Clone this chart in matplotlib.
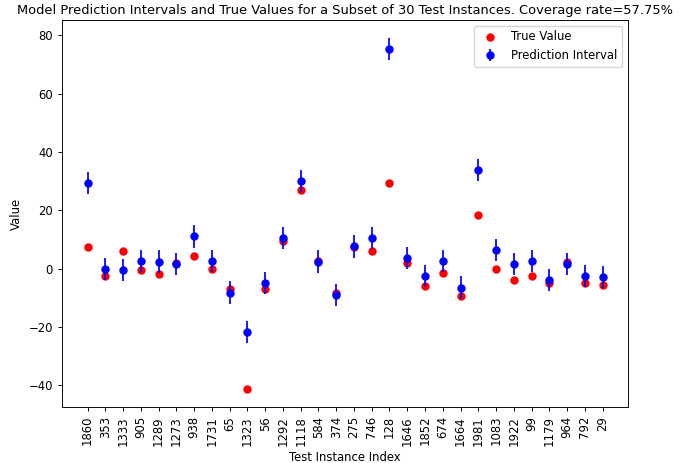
import numpy as np
import matplotlib.pyplot as plt

# test instance indices shown on the x axis
instance_ids = ['1860', '353', '1333', '905', '1289', '1273', '938', '1731', '65', '1323',
                '56', '1292', '1118', '584', '374', '275', '746', '128', '1646', '1852',
                '674', '1664', '1981', '1083', '1922', '99', '1179', '964', '792', '29']

# model point predictions (centre of the interval)
predicted = [29.3, -0.2, -0.6, 2.7, 2.4, 1.7, 11.0, 2.7, -8.2, -21.6,
             -4.9, 10.5, 29.9, 2.4, -9.0, 7.6, 10.4, 75.4, 3.6, -2.6,
             2.7, -6.5, 33.9, 6.4, 1.7, 2.7, -3.9, 1.7, -2.4, -3.0]

# half width of each prediction interval
half_width = [3.8] * 30

# true target values
true_values = [7.4, -2.7, 6.0, -0.6, -2.0, 2.0, 4.3, 0.0, -7.1, -41.4,
               -7.1, 9.6, 26.8, 2.5, -8.2, 7.4, 6.0, 29.3, 1.9, -6.1,
               -1.6, -9.5, 18.3, -0.2, -4.0, -2.4, -4.9, 2.1, -4.8, -5.5]

coverage = 57.75

# the reference is a shrunk render, scale everything down
s = 0.84
plt.rcParams.update({
    'font.size': 10 * s,
    'axes.titlesize': 9.4,
    'axes.linewidth': 0.8 * s,
    'xtick.major.width': 0.8 * s,
    'ytick.major.width': 0.8 * s,
    'xtick.major.size': 3.5 * s,
    'ytick.major.size': 3.5 * s,
    'lines.linewidth': 1.5 * s,
})

x = np.arange(len(instance_ids))

fig = plt.figure(figsize=(6.8, 4.63), dpi=100)
ax = fig.add_axes([0.091, 0.121, 0.833, 0.836])

ax.scatter(x, true_values, color='red', s=36 * s * s, label='True Value', zorder=2)
ax.errorbar(x, predicted, yerr=half_width, fmt='o', color='blue', markersize=6 * s,
            label='Prediction Interval', zorder=3)

ax.set_xticks(x)
ax.set_xticklabels(instance_ids, rotation=90)
ax.set_xlabel('Test Instance Index')
ax.set_ylabel('Value')
ax.set_title('Model Prediction Intervals and True Values for a Subset of 30 Test Instances. '
             'Coverage rate=%.2f%%' % coverage, pad=4)
ax.legend(loc='upper right')

fig.savefig('out.png', dpi=100)
